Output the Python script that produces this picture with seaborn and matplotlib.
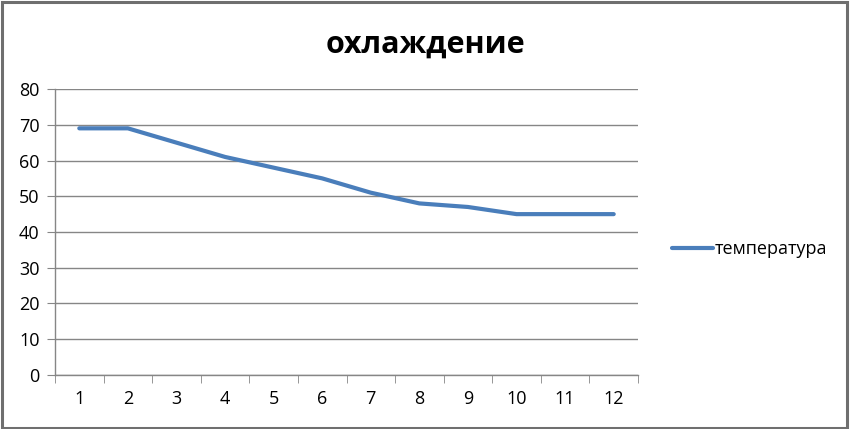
import numpy as np
import pandas as pd
import matplotlib
matplotlib.use("Agg")
import matplotlib.pyplot as plt
import seaborn as sns
from matplotlib.patches import Rectangle

sns.set_style("white")
plt.rcParams['font.family'] = ['Open Sans', 'DejaVu Sans']
plt.rcParams['text.color'] = 'black'

# -----------------------------
# data
# -----------------------------
points = [1, 2, 3, 4, 5, 6, 7, 8, 9, 10, 11, 12]
temperature = [69, 69, 65, 61, 58, 55, 51, 48, 47, 45, 45, 45]
series_name = "температура"
title = "охлаждение"

df = pd.DataFrame({"x": points, "y": temperature, "series": series_name})

fig = plt.figure(figsize=(8.5, 4.29), dpi=100)
ax = fig.add_axes([0.0647, 0.1259, 0.6859, 0.6666])

sns.lineplot(data=df, x="x", y="y", hue="series", palette=["#4A7EBB"],
             linewidth=3, ax=ax, legend=True)

ax.set_xlim(0.5, 12.5)
ax.set_ylim(0, 80)
ax.set_yticks(range(0, 81, 10))
ax.set_xticks(points)
ax.set_xticks(np.arange(0.5, 13, 1), minor=True)
ax.set_xlabel("")
ax.set_ylabel("")

grid_c = "#868686"
ax.yaxis.grid(True, color=grid_c, linewidth=1)
ax.xaxis.grid(False)
for s in ["top", "right"]:
    ax.spines[s].set_visible(False)
for s in ["left", "bottom"]:
    ax.spines[s].set_color(grid_c)
    ax.spines[s].set_linewidth(1)

ax.tick_params(axis="x", which="major", length=0, pad=11, labelsize=13, labelcolor="black")
ax.tick_params(axis="x", which="minor", length=6, color=grid_c, direction="out")
ax.tick_params(axis="y", which="major", length=6, color=grid_c, direction="out",
               labelsize=13, pad=5, labelcolor="black")
ax.tick_params(axis="y", left=True)
ax.tick_params(axis="x", which="minor", bottom=True)

leg = ax.legend(loc="center left", bbox_to_anchor=(0.771, 0.42),
                bbox_transform=fig.transFigure, frameon=False,
                fontsize=13, handlelength=2.3, handletextpad=0.1)
for t in leg.get_texts():
    t.set_color("black")

fig.text(0.5, 0.897, title, ha="center", va="center", fontsize=22,
         fontweight="bold", color="black")

fig.patches.append(Rectangle((0.002, 0.003), 0.994, 0.992, transform=fig.transFigure,
                             fill=False, edgecolor="#6F6F6F", linewidth=2.2))

fig.savefig("out.png", dpi=100)
